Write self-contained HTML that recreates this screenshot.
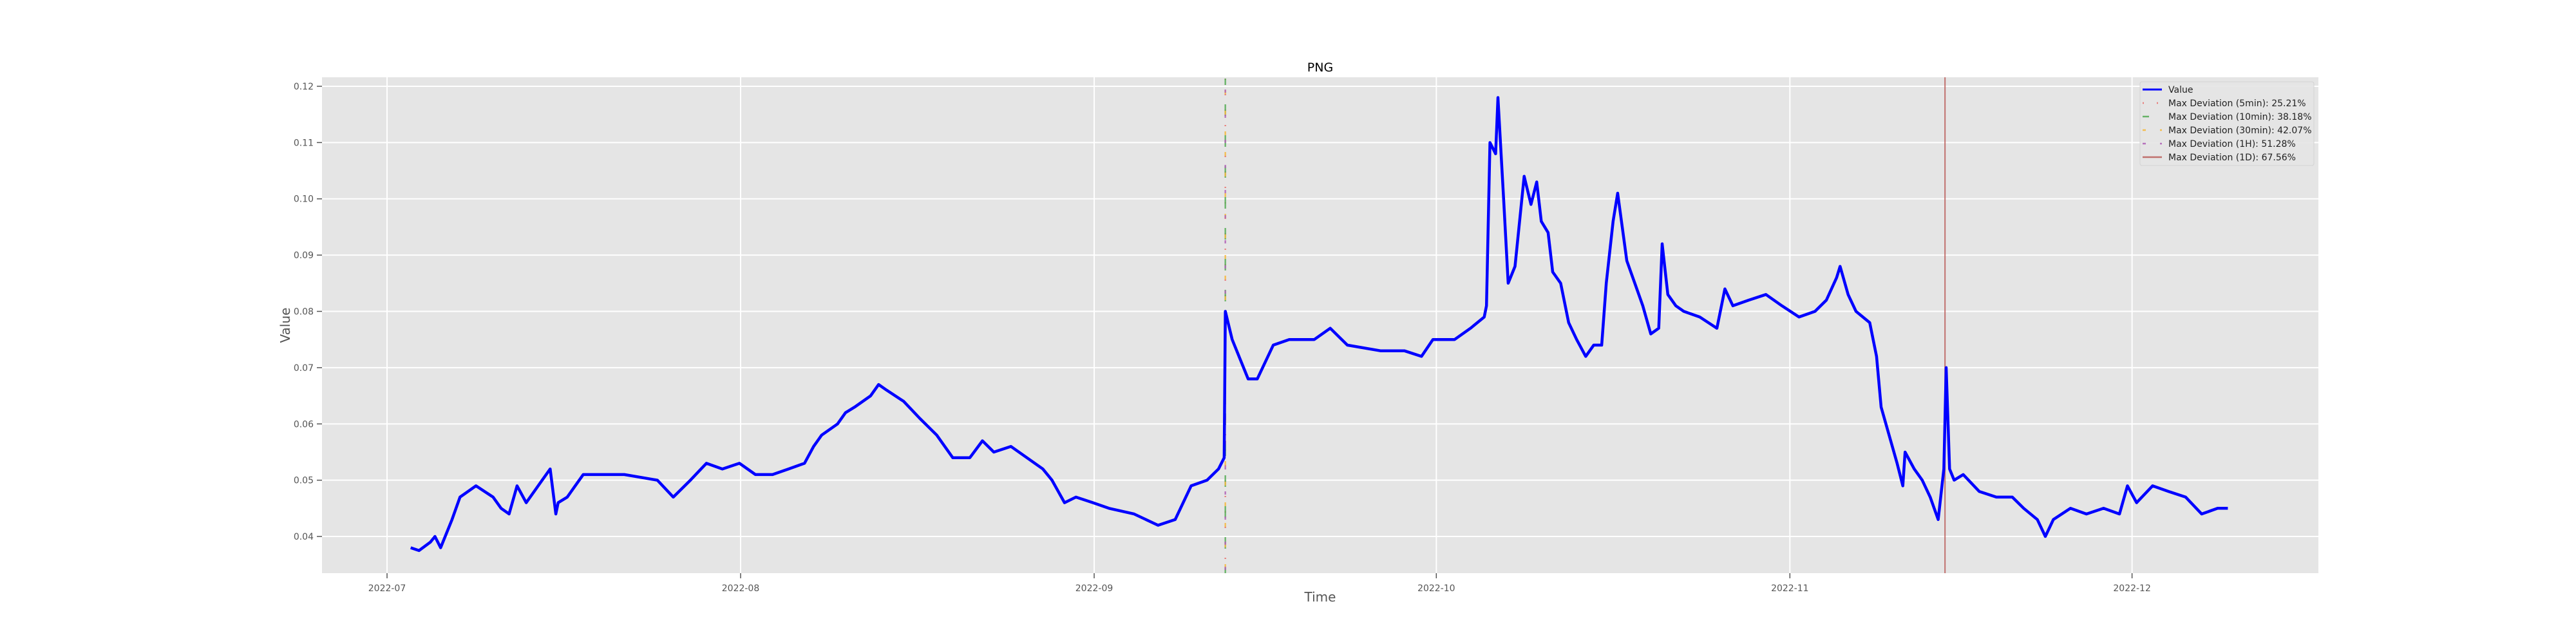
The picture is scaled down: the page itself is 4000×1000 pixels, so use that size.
<!DOCTYPE html>
<html><head><meta charset="utf-8">
<style>
html,body{margin:0;padding:0;background:#fff;}
svg{display:block;font-family:"DejaVu Sans","Liberation Sans",sans-serif;}
</style></head>
<body>
<svg id="chart" width="4000" height="1000" viewBox="0 0 4000 1000" xmlns="http://www.w3.org/2000/svg">
<rect x="500" y="120" width="3100" height="770" fill="#e5e5e5"/>
<g id="grid"></g>
<g id="marks"></g>
<g id="axes"></g>
<text x="2050" y="111" font-size="19" text-anchor="middle" fill="#000">PNG</text>
<text x="2050" y="934" font-size="20" text-anchor="middle" fill="#555">Time</text>
<text x="450" y="505" font-size="20" text-anchor="middle" fill="#555" transform="rotate(-90 450 505)">Value</text>
<g id="legend"></g>
</svg>
<script>
const xTickLabels = ["2022-07","2022-08","2022-09","2022-10","2022-11","2022-12"];
const xTickDays = [0,31,62,92,123,153];
const yTickValues = [0.04,0.05,0.06,0.07,0.08,0.09,0.10,0.11,0.12];
const yTickLabels = ["0.04","0.05","0.06","0.07","0.08","0.09","0.10","0.11","0.12"];
const dayOffsets = [2.07,2.8,3.8,4.2,4.7,5.7,6.4,7.8,9.3,10.0,10.7,11.4,12.2,13.6,14.3,14.8,15.0,15.8,17.2,18.6,20.8,23.7,25.1,26.6,28.0,29.4,30.9,32.3,33.8,35.2,36.6,37.4,38.1,39.5,40.2,41.0,42.4,43.1,43.8,45.3,46.7,48.2,48.9,49.6,51.1,52.2,53.2,54.7,56.1,57.5,58.3,59.4,60.4,61.9,63.3,65.5,67.6,69.1,70.5,71.9,72.9,73.4,73.5,74.1,75.5,76.3,77.7,79.1,81.3,82.7,84.2,87.1,89.2,90.7,91.7,93.6,95.0,96.2,96.4,96.7,97.2,97.4,97.9,98.3,98.9,99.7,100.3,100.8,101.2,101.8,102.2,102.9,103.6,104.3,105.1,105.8,106.5,106.9,107.5,107.9,108.7,109.4,110.1,110.8,111.5,111.8,112.3,113.0,113.7,115.1,116.6,117.3,118.0,119.4,120.9,122.3,123.8,125.2,126.2,127.1,127.4,128.1,128.8,130.0,130.6,131.0,131.7,132.4,132.9,133.1,133.9,134.6,135.3,136.0,136.5,136.7,137.0,137.4,138.2,139.6,141.1,142.5,143.5,144.7,145.4,146.1,147.6,149.0,150.5,151.9,152.6,153.4,154.8,156.2,157.7,159.1,160.5,161.4];
const values = [0.038,0.0375,0.039,0.040,0.038,0.043,0.047,0.049,0.047,0.045,0.044,0.049,0.046,0.050,0.052,0.044,0.046,0.047,0.051,0.051,0.051,0.050,0.047,0.050,0.053,0.052,0.053,0.051,0.051,0.052,0.053,0.056,0.058,0.060,0.062,0.063,0.065,0.067,0.066,0.064,0.061,0.058,0.056,0.054,0.054,0.057,0.055,0.056,0.054,0.052,0.050,0.046,0.047,0.046,0.045,0.044,0.042,0.043,0.049,0.050,0.052,0.054,0.080,0.075,0.068,0.068,0.074,0.075,0.075,0.077,0.074,0.073,0.073,0.072,0.075,0.075,0.077,0.079,0.081,0.110,0.108,0.118,0.100,0.085,0.088,0.104,0.099,0.103,0.096,0.094,0.087,0.085,0.078,0.075,0.072,0.074,0.074,0.085,0.096,0.101,0.089,0.085,0.081,0.076,0.077,0.092,0.083,0.081,0.080,0.079,0.077,0.084,0.081,0.082,0.083,0.081,0.079,0.080,0.082,0.086,0.088,0.083,0.080,0.078,0.072,0.063,0.058,0.053,0.049,0.055,0.052,0.050,0.047,0.043,0.052,0.070,0.052,0.050,0.051,0.048,0.047,0.047,0.045,0.043,0.040,0.043,0.045,0.044,0.045,0.044,0.049,0.046,0.049,0.048,0.047,0.044,0.045,0.045];
const deviationDays = [73.5, 136.6];
const legendLabels = ["Value","Max Deviation (5min): 25.21%","Max Deviation (10min): 38.18%","Max Deviation (30min): 42.07%","Max Deviation (1H): 51.28%","Max Deviation (1D): 67.56%"];

const NS="http://www.w3.org/2000/svg";
const L=500,R=3600,T=120,B=890,Y0=0.03348,Y1=0.1216;
function xs(d){return 601+d*17.71;}
function ys(v){return B-(v-Y0)/(Y1-Y0)*(B-T);}
function mk(tag,attrs,parent){const e=document.createElementNS(NS,tag);for(const k in attrs)e.setAttribute(k,attrs[k]);parent.appendChild(e);return e;}
const grid=document.getElementById('grid'),axes=document.getElementById('axes'),marks=document.getElementById('marks'),leg=document.getElementById('legend');

yTickValues.forEach((v,i)=>{
  const y=ys(v);
  const g=mk('line',{x1:L,x2:R,y1:y,y2:y,stroke:'#fff','stroke-width':2},grid);
  
  
  const t=mk('line',{x1:L-8,x2:L,y1:y,y2:y,stroke:'#555','stroke-width':1.5},axes);
  
  
  const tx=mk('text',{x:L-13,y:y+5,'font-size':14,'text-anchor':'end',fill:'#555'},axes);
  tx.textContent=yTickLabels[i];
  
  
});
xTickDays.forEach((d,i)=>{
  const x=xs(d);
  const g=mk('line',{x1:x,x2:x,y1:T,y2:B,stroke:'#fff','stroke-width':2},grid);
  
  
  const t=mk('line',{x1:x,x2:x,y1:B,y2:B+8,stroke:'#555','stroke-width':1.5},axes);
  
  
  const tx=mk('text',{x:x,y:B+28,'font-size':14,'text-anchor':'middle',fill:'#555'},axes);
  tx.textContent=xTickLabels[i];
  
  
});

const dx=xs(deviationDays[0]);
[['#e8726f','2 22',0],['#5aae5a','18 30',8],['#f5b942','6 26',14],['#b266b8','5 34',22]].forEach(c=>{
  const l=mk('line',{x1:dx,x2:dx,y1:T+2,y2:B,stroke:c[0],'stroke-width':2.5,'stroke-dasharray':c[1],'stroke-dashoffset':c[2],opacity:0.85},marks);
  
  
});
const rx=xs(deviationDays[1]);
const rl=mk('line',{x1:rx,x2:rx,y1:T,y2:B,stroke:'#b85450','stroke-width':2,opacity:0.8},marks);



const pts=dayOffsets.map((d,i)=>xs(d).toFixed(1)+','+ys(values[i]).toFixed(1)).join(' ');
const pl=mk('polyline',{points:pts,fill:'none',stroke:'#0000ff','stroke-width':4.5,'stroke-linejoin':'round'},marks);



const lb=mk('rect',{x:3323,y:127,width:270,height:130,rx:3,fill:'#e5e5e5',stroke:'#d0d0d0','stroke-width':1,opacity:0.9},leg);


const styles=[['#0000ff','',1,3],['#e8726f','2 20',0.9,2.5],['#5aae5a','10 30',0.9,2.5],['#f5b942','5 22',0.9,2.5],['#b266b8','5 22',0.9,2.5],['#b85450','',0.8,2.5]];
legendLabels.forEach((lab,i)=>{
  const y=139+i*21;
  const s=styles[i];
  const ln=mk('line',{x1:3327,x2:3357,y1:y,y2:y,stroke:s[0],'stroke-width':s[3],'stroke-dasharray':s[1],opacity:s[2]},leg);
  
  
  const t=mk('text',{x:3367,y:y+5,'font-size':14,fill:'#222'},leg);
  t.textContent=lab;
  
  
});
</script>
</body></html>
